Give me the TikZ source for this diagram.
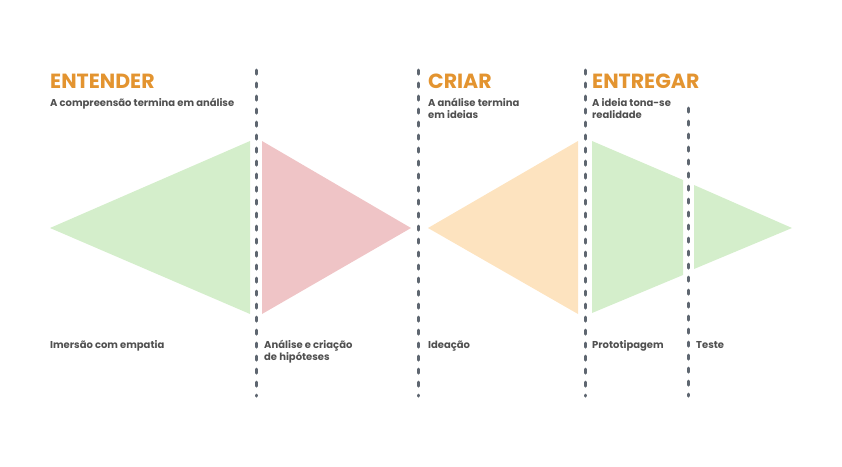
\documentclass[tikz,border=0pt]{standalone}
\usepackage{fontspec}
\setmainfont{Poppins}
\definecolor{phase}{HTML}{E39430}
\definecolor{note}{HTML}{505050}
\definecolor{divider}{HTML}{5E6670}
\definecolor{greenfill}{HTML}{D4EECB}
\definecolor{redfill}{HTML}{EFC4C6}
\definecolor{orangefill}{HTML}{FDE3BF}
\begin{document}
\begin{tikzpicture}[x=1pt,y=-1pt,
  phasetitle/.style={anchor=base west,inner sep=0pt,font=\fontsize{20.5}{20.5}\selectfont\bfseries,text=phase},
  phasenote/.style={anchor=base west,inner sep=0pt,align=left,font=\fontsize{10}{12}\selectfont\bfseries,text=note},
  divline/.style={draw=divider,line width=3pt,line cap=round,dash pattern=on 4.2pt off 8.8pt}]
\useasboundingbox (0,0) rectangle (842,466);

% shapes of the three phases
\fill[greenfill] (50,228) -- (250,141) -- (250,314) -- cycle;
\fill[redfill] (262,141) -- (411,228) -- (262,314) -- cycle;
\fill[orangefill] (428,228) -- (578,141) -- (578,314) -- cycle;
\fill[greenfill] (592,141) -- (683,180) -- (683,275) -- (592,313) -- cycle;
\fill[greenfill] (694,185) -- (792,228) -- (694,269) -- cycle;

% dashed dividers
\coordinate (d1t) at (256,70);  \coordinate (d1b) at (256,396);
\coordinate (d2t) at (418,70);  \coordinate (d2b) at (418,396);
\coordinate (d3t) at (585,70);  \coordinate (d3b) at (585,396);
\coordinate (d4t) at (688,108); \coordinate (d4b) at (688,396);
\draw[divline] (d1t) -- (d1b);
\draw[divline] (d2t) -- (d2b);
\draw[divline] (d3t) -- (d3b);
\draw[divline] (d4t) -- (d4b);

% phase titles
\node[phasetitle] (t1) at (50,88) {ENTENDER};
\node[phasetitle] (t2) at (428,88) {CRIAR};
\node[phasetitle] (t3) at (592,88) {ENTREGAR};

% phase notes (two-line nodes are placed by the baseline of their last line)
\node[phasenote] (n1) at (50,106) {A compreensão termina em análise};
\node[phasenote] (n2) at (428,118) {A análise termina\\em ideias};
\node[phasenote] (n3) at (592,118) {A ideia tona-se\\realidade};

% step labels
\node[phasenote] (s1) at (50,348) {Imersão com empatia};
\node[phasenote] (s2) at (264,360) {Análise e criação\\de hipóteses};
\node[phasenote] (s3) at (428,348) {Ideação};
\node[phasenote] (s4) at (592,348) {Prototipagem};
\node[phasenote] (s5) at (696,348) {Teste};
\end{tikzpicture}
\end{document}
